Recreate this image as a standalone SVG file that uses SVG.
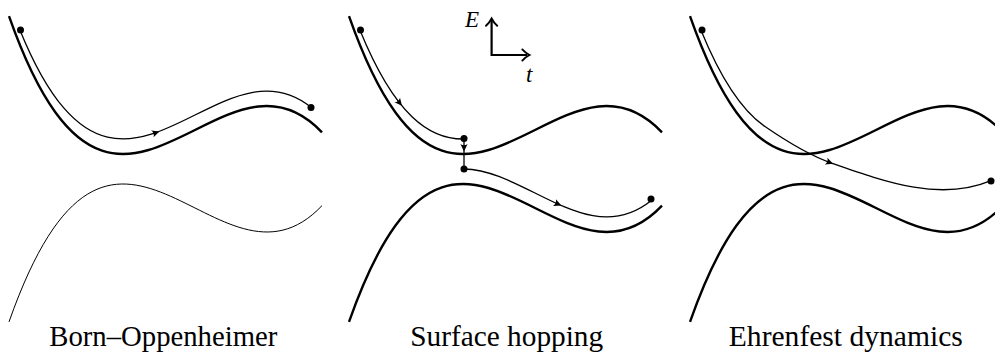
<svg xmlns="http://www.w3.org/2000/svg" width="995" height="358" viewBox="0 0 995 358">
<style>
.thick{fill:none;stroke:#000;stroke-width:2.4;stroke-linecap:butt}
.thin{fill:none;stroke:#000;stroke-width:1}
.traj{fill:none;stroke:#000;stroke-width:1.3}
.dot{fill:#000}
.ax{fill:none;stroke:#000;stroke-width:2.2}
.axh{fill:none;stroke:#000;stroke-width:1.9;stroke-linecap:round}
.lbl{font-family:"Liberation Serif","DejaVu Serif",serif;font-size:29px;fill:#000;text-anchor:middle}
.sym{font-family:"Liberation Serif","DejaVu Serif",serif;font-size:23px;font-style:italic;fill:#000}
</style>
<defs>
<path id="ah" d="M1.5,0 L-6,-3.6 Q-3.5,0 -6,3.6 Z" fill="#000"/>
<path id="upper" d="M9,16.12 C113.33,312.1 217.67,22.22 322,132.36"/>
<path id="lower" d="M9,321.88 C113.33,25.9 217.67,315.78 322,205.64"/>
</defs>

<g id="panel-born-oppenheimer">
<use href="#upper" class="thick"/>
<use href="#lower" class="thin"/>
<text class="lbl" x="163.3" y="346" textLength="228" lengthAdjust="spacingAndGlyphs">Born–Oppenheimer</text>
</g>

<g id="panel-surface-hopping">
<use href="#upper" class="thick" transform="translate(340,0)"/>
<use href="#lower" class="thick" transform="translate(340,0)"/>
<text class="lbl" x="506.7" y="346" textLength="193" lengthAdjust="spacingAndGlyphs">Surface hopping</text>
</g>

<g id="panel-ehrenfest">
<use href="#upper" class="thick" transform="translate(681,0)"/>
<use href="#lower" class="thick" transform="translate(681,0)"/>
<text class="lbl" x="845.8" y="346" textLength="234" lengthAdjust="spacingAndGlyphs">Ehrenfest dynamics</text>
</g>

<g id="axes">
<path class="ax" d="M491.6,20 L491.6,55 L527,55"/>
<path class="axh" d="M486,25.8 Q489.6,22.5 491.6,18.5 Q493.6,22.5 497.2,25.8"/>
<path class="axh" d="M522.3,49.4 Q525.5,53 529.5,55 Q525.5,57 522.3,60.6"/>
<text class="sym" x="465" y="27">E</text>
<text class="sym" x="526" y="82">t</text>
</g>

<g id="connectors">
<path class="traj" d="M20,30.19 C117,268.21 214,29.78 311,107.18"/>
<use href="#ah" transform="translate(158,131.9) rotate(-20)"/>
<circle class="dot" cx="20.5" cy="30" r="3.5"/>
<circle class="dot" cx="311" cy="107.5" r="3.5"/>

<path class="traj" d="M360,30.19 C394.67,115.26 429.33,139.47 464,138.99"/>
<use href="#ah" transform="translate(401,104.6) rotate(51)"/>
<path class="traj" d="M464,139 L464,169"/>
<use href="#ah" transform="translate(464,150) rotate(90)"/>
<path class="traj" d="M464,169.01 C526.33,169.87 588.67,250.56 651,200.82"/>
<use href="#ah" transform="translate(560,205) rotate(23.7)"/>
<circle class="dot" cx="360.5" cy="30" r="3.5"/>
<circle class="dot" cx="464" cy="138.5" r="3.5"/>
<circle class="dot" cx="464" cy="169" r="3.5"/>
<circle class="dot" cx="651" cy="199" r="3.5"/>

<path class="traj" d="M701,30.19 C722.33,82.54 743.67,111.85 765,126.53 C787.3,141.9 809.7,155.5 832,163.3 C887,182.55 941,201.7 991,180.7"/>
<use href="#ah" transform="translate(831.7,163.3) rotate(21)"/>
<circle class="dot" cx="702" cy="30" r="3.5"/>
<circle class="dot" cx="991" cy="181" r="3.5"/>
</g>
</svg>
